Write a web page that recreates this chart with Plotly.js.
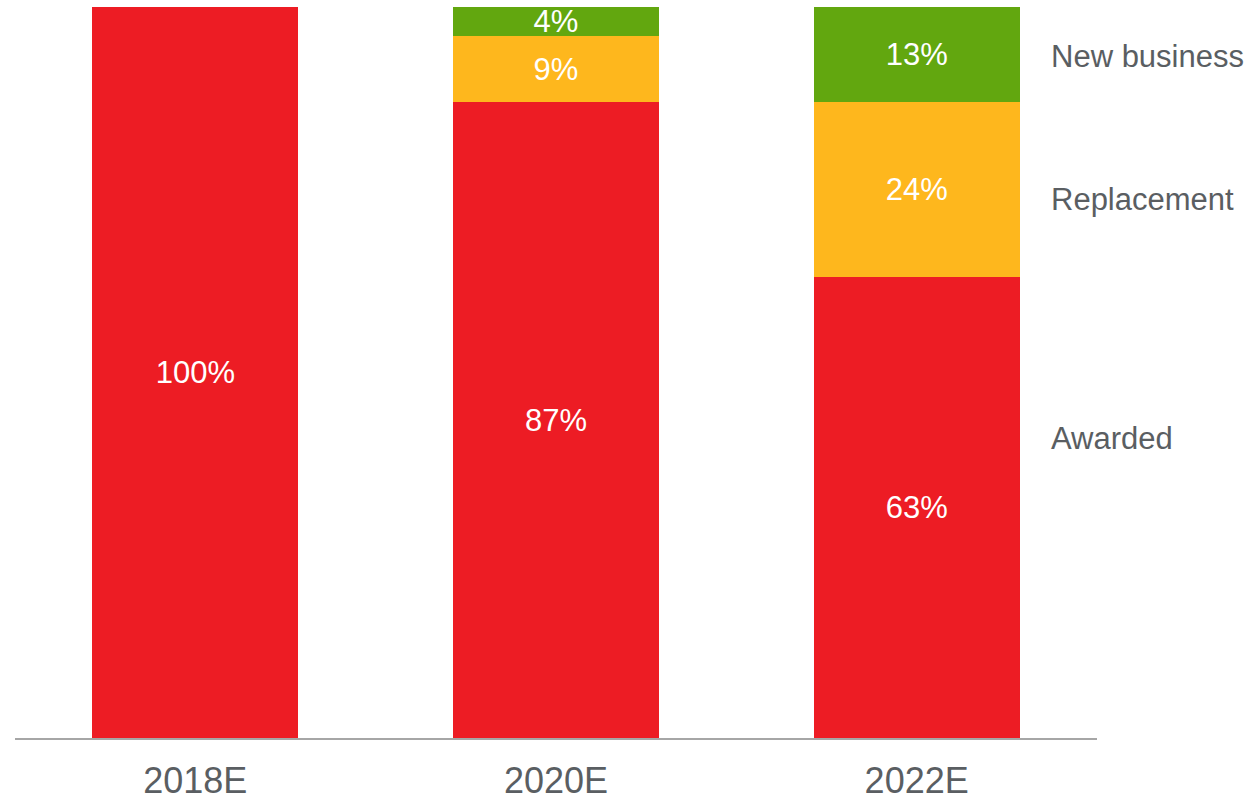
<!DOCTYPE html>
<html>
<head>
<meta charset="utf-8">
<script src="https://cdn.plot.ly/plotly-3.0.1.min.js"></script>
<style>html,body{margin:0;padding:0;background:#fff;}#chart{width:1253px;height:800px;}</style>
</head>
<body>
<div id="chart"></div>
<script>
const categories = ['2018E', '2020E', '2022E'];
const awarded = [100, 87, 63];
const replacement = [0, 9, 24];
const newBusiness = [0, 4, 13];
const seriesNames = ['Awarded', 'Replacement', 'New business'];
const seriesLabelY = [41, 73.6, 93.2];

const colors = ['#ED1C24', '#FEB71D', '#62A70F'];
const textGray = '#5A5E62';
const font = 'Liberation Sans, Arial, sans-serif';

function mk(vals, name, color) {
  return {
    type: 'bar', x: categories, y: vals, name: name,
    marker: {color: color, line: {width: 0}},
    text: vals.map(v => v > 0 ? v + '%' : ''),
    textposition: 'inside', insidetextanchor: 'middle',
    textangle: 0, constraintext: 'none',
    textfont: {family: font, size: 31, color: '#ffffff'},
    hoverinfo: 'skip'
  };
}

const data = [
  mk(awarded, seriesNames[0], colors[0]),
  mk(replacement, seriesNames[1], colors[1]),
  mk(newBusiness, seriesNames[2], colors[2])
];

const annotations = seriesNames.map((n, i) => ({
  text: n, xref: 'paper', yref: 'y', x: 0.956, y: seriesLabelY[i],
  xanchor: 'left', yanchor: 'middle', showarrow: false,
  font: {family: font, size: 31, color: textGray}
}));

const layout = {
  width: 1253, height: 800,
  margin: {l: 15, r: 156, t: 7, b: 62, pad: 0},
  barmode: 'stack', bargap: 0.429,
  showlegend: false,
  paper_bgcolor: '#ffffff', plot_bgcolor: '#ffffff',
  xaxis: {
    type: 'category', range: [-0.5, 2.5],
    showline: true, linecolor: '#A6A6A6', linewidth: 1.5,
    ticks: '', showgrid: false, zeroline: false,
    tickfont: {family: font, size: 36, color: textGray},
    ticklabelstandoff: 10, fixedrange: true
  },
  yaxis: {
    range: [0, 100], visible: false, showgrid: false, zeroline: false, fixedrange: true
  },
  annotations: annotations
};

Plotly.newPlot('chart', data, layout, {displayModeBar: false, staticPlot: true});
</script>
</body>
</html>
